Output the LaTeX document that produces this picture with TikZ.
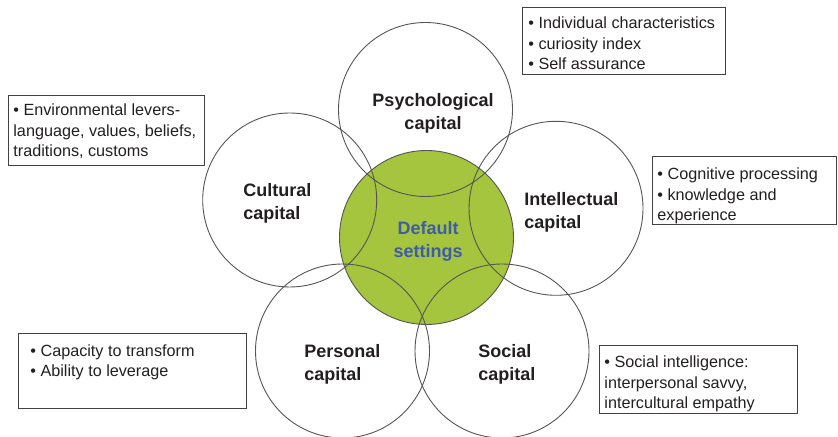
\documentclass[tikz,border=0pt]{standalone}
\usepackage{fontspec}
\setmainfont{Liberation Sans}
\usetikzlibrary{positioning}

\definecolor{leafgreen}{RGB}{165,197,62}
\definecolor{settingblue}{RGB}{64,92,168}
\definecolor{inkgray}{RGB}{35,31,32}
\definecolor{rimgray}{RGB}{85,85,85}

\tikzset{
  capcircle/.style={circle, draw=rimgray, line width=0.45pt, minimum size=87pt, inner sep=0pt},
  caplabel/.style={font=\fontsize{9}{11.5}\selectfont\bfseries, text=inkgray, align=left, inner sep=0pt},
  notebox/.style={draw=inkgray!85, line width=0.7pt, inner sep=0pt, anchor=north west},
  notetext/.style={font=\fontsize{8.1}{10.25}\selectfont, text=inkgray, align=left, inner sep=0pt, anchor=north west}
}

\begin{document}
\begin{tikzpicture}[x=0.5pt,y=-0.5pt]
    \useasboundingbox (0,0) rectangle (838,437);

    % Core in the middle, filled first so the rims lie on top
    \node[capcircle, fill=leafgreen] (def) at (426.5,237.5) {};

    % The five capitals round the core
    \node[capcircle] (psy) at (425.5,109.5) {};
    \node[capcircle] (cul) at (289.7,200) {};
    \node[capcircle] (int) at (556,208.3) {};
    \node[capcircle] (per) at (342.5,351) {};
    \node[capcircle] (soc) at (502,351) {};

    % Circle labels
    \node[caplabel, align=center] (psylbl) at (433,113.5) {Psychological\\capital};
    \node[caplabel, anchor=west] (cullbl) at (243,203) {Cultural\\capital};
    \node[caplabel, anchor=west] (intlbl) at (524,212) {Intellectual\\capital};
    \node[caplabel, anchor=west] (perlbl) at (304,364.5) {Personal\\capital};
    \node[caplabel, anchor=west] (soclbl) at (478,364.5) {Social\\capital};
    \node[caplabel, align=center, text=settingblue] (deflbl) at (428,241) {Default\\settings};

    % Side notes
    \node[notebox, minimum width=101.5pt, minimum height=33.5pt] (psybox) at (522,7) {};
    \node[notetext] (psytxt) at (528,16.5) {\textbullet\ Individual characteristics\\\textbullet\ curiosity index\\\textbullet\ Self assurance};

    \node[notebox, minimum width=98pt, minimum height=35pt] (culbox) at (8,95) {};
    \node[notetext] (cultxt) at (13,103.5) {\textbullet\ Environmental levers-\\language, values, beliefs,\\traditions, customs};

    \node[notebox, minimum width=92pt, minimum height=34pt] (intbox) at (652,156) {};
    \node[notetext] (inttxt) at (657,167.5) {\textbullet\ Cognitive processing\\\textbullet\ knowledge and\\experience};

    \node[notebox, minimum width=114pt, minimum height=37.5pt] (perbox) at (18,333) {};
    \node[notetext] (pertxt) at (30,344) {\textbullet\ Capacity to transform\\\textbullet\ Ability to leverage};

    \node[notebox, minimum width=99pt, minimum height=34pt] (socbox) at (599,345) {};
    \node[notetext] (soctxt) at (604,355.5) {\textbullet\ Social intelligence:\\interpersonal savvy,\\intercultural empathy};
\end{tikzpicture}
\end{document}
